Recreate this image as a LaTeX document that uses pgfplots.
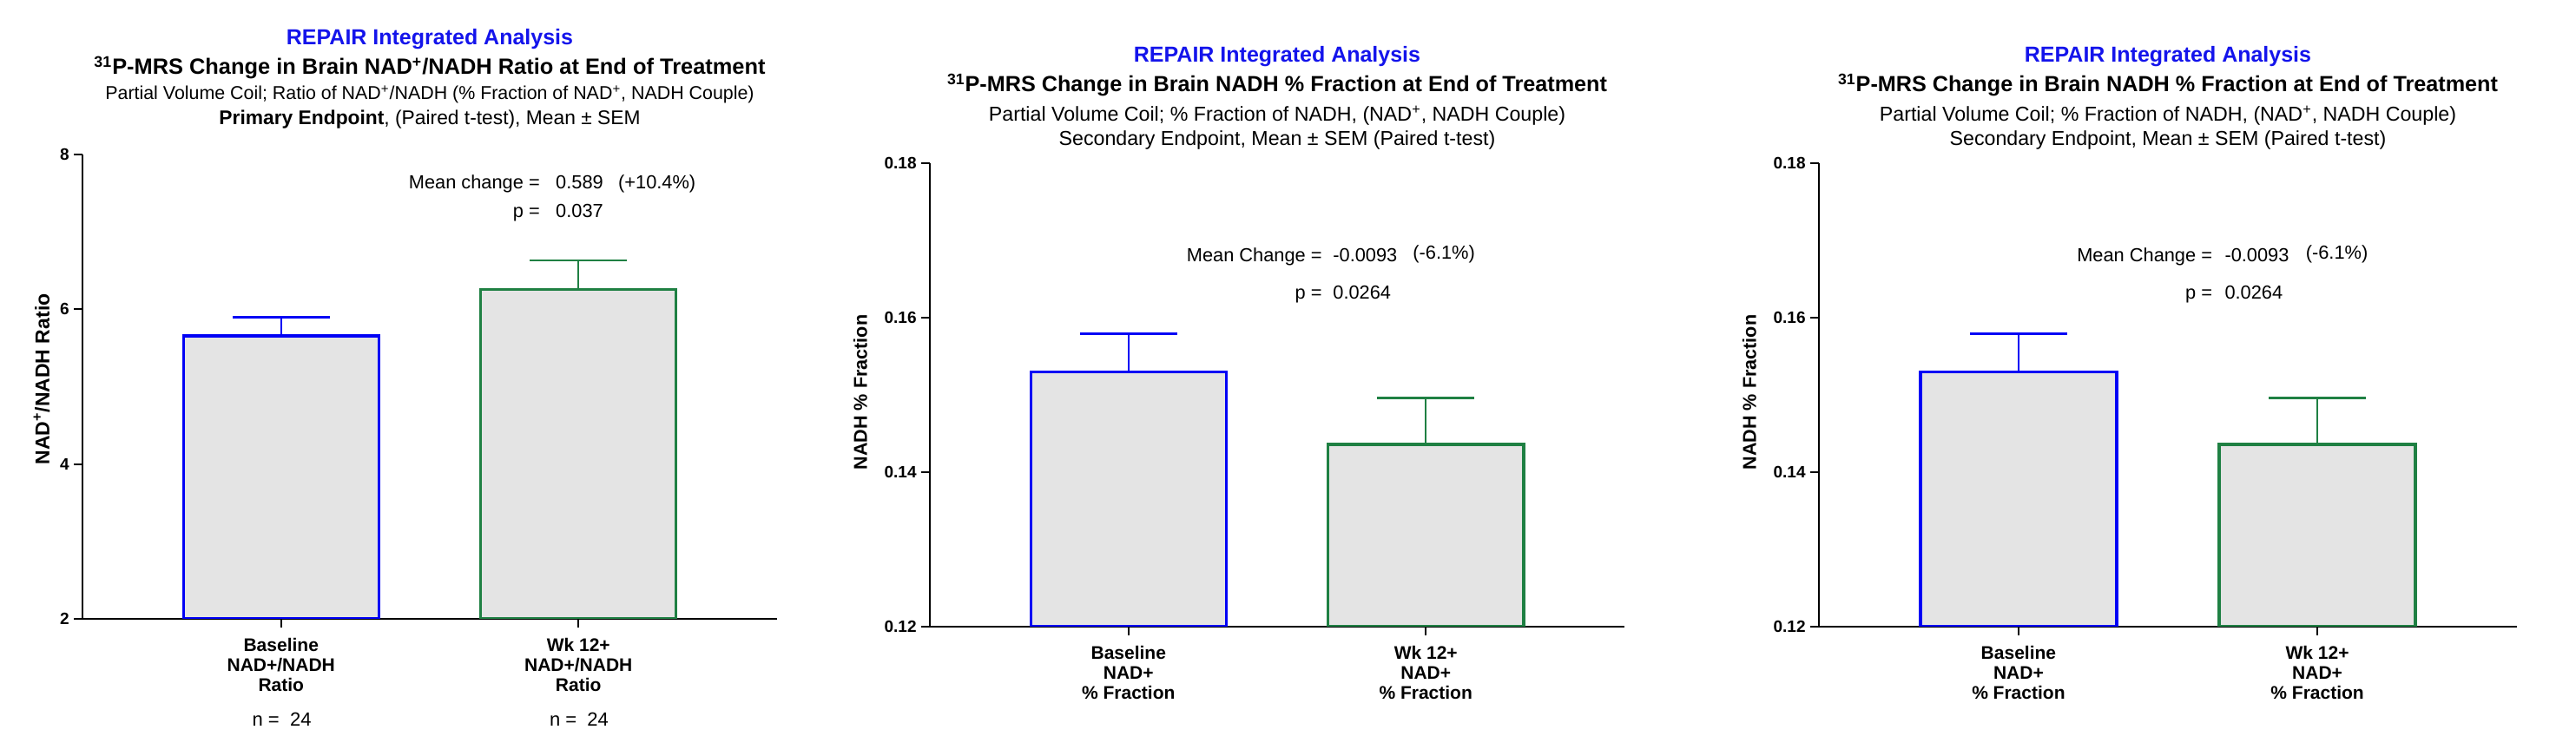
\documentclass[border=0pt]{standalone}
\usepackage{pgfplots}
\pgfplotsset{compat=1.18}
\usepackage{fontspec}
\setmainfont{Liberation Sans}
\definecolor{barblue}{RGB}{0,0,245}
\definecolor{bargreen}{RGB}{31,128,67}
\definecolor{barfill}{RGB}{228,228,228}
\definecolor{titleblue}{RGB}{20,20,235}
\newcommand{\fsz}[2]{\fontsize{#1}{#2}\selectfont}
\tikzset{annot/.style={inner sep=0pt, font=\fsz{10.9}{12}}}
\pgfplotsset{
  mybar/.style={
    scale only axis, anchor=south west,
    axis x line*=bottom, axis y line*=left,
    axis line style={line width=1pt, black},
    xmin=-0.668, xmax=1.668,
    xtick={0,1},
    tick align=outside, major tick length=5pt,
    tick style={line width=1pt, black},
    xticklabel style={font=\bfseries\fsz{10.5}{11.4}, align=center, inner sep=0pt, yshift=-6pt},
    yticklabel style={font=\bfseries\fsz{9.5}{10}, inner sep=0pt, xshift=-2.5pt},
    ybar, bar width=0.657,
    clip=true,
  },
  bluebar/.style={draw=barblue, fill=barfill, line width=1.75pt, bar shift=0pt,
    error bars/.cd, y dir=plus, y explicit, error mark=|,
    error bar style={line width=1pt, color=barblue},
    error mark options={line width=1.25pt, color=barblue, mark size=28pt}},
  greenbar/.style={draw=bargreen, fill=barfill, line width=1.75pt, bar shift=0pt,
    error bars/.cd, y dir=plus, y explicit, error mark=|,
    error bar style={line width=1pt, color=bargreen},
    error mark options={line width=1.25pt, color=bargreen, mark size=28pt}},
}
\begin{document}
\begin{tikzpicture}
\path[use as bounding box] (0,0) rectangle (1483.5pt,435.5pt);

% ---------- Panel 1 ----------
\begin{axis}[mybar, at={(47.5pt,79pt)}, width=400pt, height=267.5pt,
  ymin=2, ymax=8, ytick={2,4,6,8}, yticklabels={2,4,6,8},
  xticklabels={{Baseline\\NAD+/NADH\\Ratio},{Wk 12+\\NAD+/NADH\\Ratio}}]
\addplot[bluebar] coordinates {(0,5.655) +- (0,0.240)};
\addplot[greenbar] coordinates {(1,6.255) +- (0,0.376)};
\node[annot, anchor=base east] at (rel axis cs:0.659,0.927) {Mean change =};
\node[annot, anchor=base west] at (rel axis cs:0.681,0.927) {0.589};
\node[annot, anchor=base west] at (rel axis cs:0.771,0.927) {(+10.4\%)};
\node[annot, anchor=base east] at (rel axis cs:0.659,0.865) {p =};
\node[annot, anchor=base west] at (rel axis cs:0.681,0.865) {0.037};
\end{axis}
\node[anchor=base, font=\bfseries\fsz{12.5}{14}, text=titleblue] at (247.5pt,409.5pt) {REPAIR Integrated Analysis};
\node[anchor=base, font=\bfseries\fsz{12.7}{14}] at (247.5pt,392.5pt) {\textsuperscript{31}P-MRS Change in Brain NAD\textsuperscript{+}/NADH Ratio at End of Treatment};
\node[anchor=base, font=\fsz{10.7}{12}] at (247.5pt,378pt) {Partial Volume Coil; Ratio of NAD\textsuperscript{+}/NADH (\% Fraction of NAD\textsuperscript{+}, NADH Couple)};
\node[anchor=base, font=\fsz{11.4}{12}] at (247.5pt,363.5pt) {\textbf{Primary Endpoint}, (Paired t-test), Mean ± SEM};
\node[rotate=90, font=\bfseries\fsz{11.5}{12}] at (24pt,217pt) {NAD\textsuperscript{+}/NADH Ratio};
\node[anchor=base, font=\fsz{11}{12}] at (162.3pt,17pt) {n =\ \ 24};
\node[anchor=base, font=\fsz{11}{12}] at (333.5pt,17pt) {n =\ \ 24};

% ---------- Panel 2 ----------
\begin{axis}[mybar, at={(535.5pt,74.5pt)}, width=400pt, height=267pt,
  ymin=0.12, ymax=0.18, ytick={0.12,0.14,0.16,0.18}, yticklabels={0.12,0.14,0.16,0.18},
  xticklabels={{Baseline\\NAD+\\\% Fraction},{Wk 12+\\NAD+\\\% Fraction}}]
\addplot[bluebar] coordinates {(0,0.1530) +- (0,0.0049)};
\addplot[greenbar] coordinates {(1,0.1436) +- (0,0.0060)};
\node[annot, anchor=base east] at (rel axis cs:0.565,0.787) {Mean Change =};
\node[annot, anchor=base west] at (rel axis cs:0.580,0.787) {-0.0093};
\node[annot, anchor=base west] at (rel axis cs:0.695,0.793) {(-6.1\%)};
\node[annot, anchor=base east] at (rel axis cs:0.565,0.706) {p =};
\node[annot, anchor=base west] at (rel axis cs:0.580,0.706) {0.0264};
\end{axis}
\node[anchor=base, font=\bfseries\fsz{12.5}{14}, text=titleblue] at (735.5pt,399.5pt) {REPAIR Integrated Analysis};
\node[anchor=base, font=\bfseries\fsz{12.6}{14}] at (735.5pt,382.5pt) {\textsuperscript{31}P-MRS Change in Brain NADH \% Fraction at End of Treatment};
\node[anchor=base, font=\fsz{11.6}{12}] at (735.5pt,365.5pt) {Partial Volume Coil; \% Fraction of NADH, (NAD\textsuperscript{+}, NADH Couple)};
\node[anchor=base, font=\fsz{11.6}{12}] at (735.5pt,351.5pt) {Secondary Endpoint, Mean ± SEM (Paired t-test)};
\node[rotate=90, font=\bfseries\fsz{10.8}{12}] at (495.5pt,209.5pt) {NADH \% Fraction};

% ---------- Panel 3 ----------
\begin{axis}[mybar, at={(1047.5pt,74.5pt)}, width=402pt, height=267pt,
  ymin=0.12, ymax=0.18, ytick={0.12,0.14,0.16,0.18}, yticklabels={0.12,0.14,0.16,0.18},
  xticklabels={{Baseline\\NAD+\\\% Fraction},{Wk 12+\\NAD+\\\% Fraction}}]
\addplot[bluebar] coordinates {(0,0.1530) +- (0,0.0049)};
\addplot[greenbar] coordinates {(1,0.1436) +- (0,0.0060)};
\node[annot, anchor=base east] at (rel axis cs:0.564,0.787) {Mean Change =};
\node[annot, anchor=base west] at (rel axis cs:0.581,0.787) {-0.0093};
\node[annot, anchor=base west] at (rel axis cs:0.697,0.793) {(-6.1\%)};
\node[annot, anchor=base east] at (rel axis cs:0.564,0.706) {p =};
\node[annot, anchor=base west] at (rel axis cs:0.581,0.706) {0.0264};
\end{axis}
\node[anchor=base, font=\bfseries\fsz{12.5}{14}, text=titleblue] at (1248.5pt,399.5pt) {REPAIR Integrated Analysis};
\node[anchor=base, font=\bfseries\fsz{12.6}{14}] at (1248.5pt,382.5pt) {\textsuperscript{31}P-MRS Change in Brain NADH \% Fraction at End of Treatment};
\node[anchor=base, font=\fsz{11.6}{12}] at (1248.5pt,365.5pt) {Partial Volume Coil; \% Fraction of NADH, (NAD\textsuperscript{+}, NADH Couple)};
\node[anchor=base, font=\fsz{11.6}{12}] at (1248.5pt,351.5pt) {Secondary Endpoint, Mean ± SEM (Paired t-test)};
\node[rotate=90, font=\bfseries\fsz{10.8}{12}] at (1007.5pt,209.5pt) {NADH \% Fraction};
\end{tikzpicture}
\end{document}
